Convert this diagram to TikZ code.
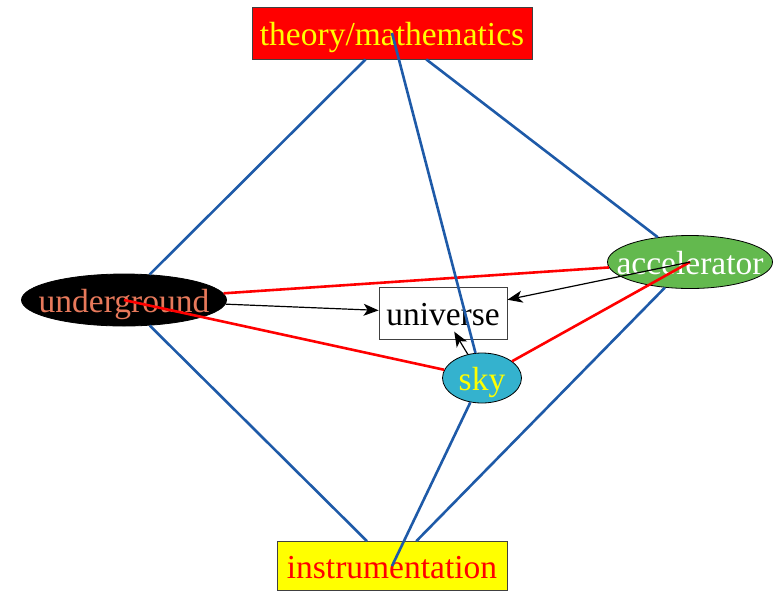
\documentclass[tikz,border=0pt]{standalone}
\usepackage{fontspec}
\setmainfont{Liberation Serif}
\usetikzlibrary{shapes.geometric,arrows.meta}
\definecolor{bluel}{RGB}{30,90,168}
\definecolor{salmon}{RGB}{231,121,91}
\definecolor{accgreen}{RGB}{99,185,78}
\definecolor{skyblue}{RGB}{52,178,206}
\definecolor{yel}{RGB}{255,255,0}
\tikzset{
  x=1pt, y=-1pt,
  txt/.style={inner sep=0pt, text height=24pt, text depth=0pt,
    font=\fontsize{33.5}{40}\selectfont},
  boxn/.style={rectangle, draw=black!75, line width=0.8pt, inner sep=0pt},
  elln/.style={ellipse, draw=black, line width=0.8pt, inner sep=0pt},
  blueline/.style={draw=bluel, line width=2.6pt},
  redline/.style={draw=red, line width=2.6pt},
  arr/.style={draw=black, line width=1.2pt, -{Stealth[length=15pt,width=12pt,inset=4pt]}}
}
\begin{document}
\begin{tikzpicture}
\useasboundingbox (0,0) rectangle (775,590);
% nodes
\node[boxn, fill=red, minimum width=280pt, minimum height=52pt,
  label={[txt, text=yel]center:theory/mathematics}] (th) at (392,33) {};
\node[elln, fill=black, minimum width=205pt, minimum height=52pt,
  label={[txt, text=salmon]center:underground}] (ug) at (124,300) {};
\node[boxn, fill=white, minimum width=128pt, minimum height=52pt,
  label={[txt, text=black]center:universe}] (uni) at (443,313) {};
\node[elln, fill=accgreen, minimum width=165pt, minimum height=53pt,
  label={[txt, text=white]center:accelerator}] (acc) at (690,262) {};
\node[elln, fill=skyblue, minimum width=79pt, minimum height=50pt,
  label={[txt, text=yel]center:sky}] (sky) at (482,378) {};
\node[boxn, fill=yel, minimum width=230pt, minimum height=49pt,
  label={[txt, text=red]center:instrumentation}] (instr) at (392,566) {};
% red links
\draw[redline] (ug) -- (acc);
\draw[redline] (ug.center) -- (sky);
\draw[redline] (acc.center) -- (sky);
% black arrows
\draw[arr] (ug) -- (uni);
\draw[arr] (acc.center) -- (uni);
\draw[arr, shorten >=-9pt] (sky) -- (uni);
% blue links
\draw[blueline] (th) -- (ug);
\draw[blueline] (th) -- (acc);
\draw[blueline] (th.center) -- (sky);
\draw[blueline] (ug) -- (instr);
\draw[blueline] (acc) -- (instr);
\draw[blueline] (sky) -- (instr.center);
\end{tikzpicture}
\end{document}
